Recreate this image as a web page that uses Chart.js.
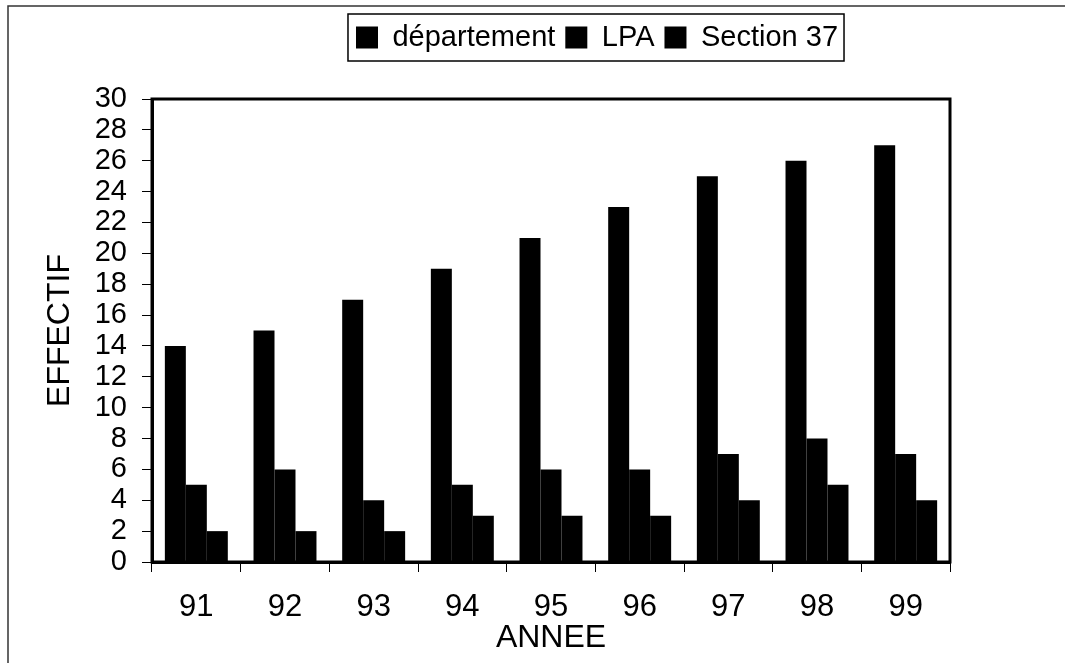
<!DOCTYPE html>
<html>
<head>
<meta charset="utf-8">
<script src="https://cdn.jsdelivr.net/npm/chart.js@4/dist/chart.umd.min.js"></script>
<style>
  html, body { margin: 0; padding: 0; background: #fff; }
  canvas { display: block; }
</style>
</head>
<body>
<canvas id="c" width="1065" height="663"></canvas>
<script>
const years = ['91', '92', '93', '94', '95', '96', '97', '98', '99'];
const departement = [14, 15, 17, 19, 21, 23, 25, 26, 27];
const lpa = [5, 6, 4, 5, 6, 6, 7, 8, 7];
const section37 = [2, 2, 2, 3, 3, 3, 4, 5, 4];
const seriesNames = ['département', 'LPA', 'Section 37'];
const yMin = 0, yMax = 30, yStep = 2;
const xTitle = 'ANNEE';
const yTitle = 'EFFECTIF';

const FONT = "'Liberation Sans', Arial, sans-serif";

const legendSpacer = {
  id: 'legendSpacer',
  beforeLayout(chart) {
    const lg = chart.legend;
    if (lg && !lg._patched) {
      const orig = lg.fit;
      lg.fit = function () { orig.call(this); this.height += 37; };
      lg._patched = true;
    }
  },
  afterLayout(chart) {
    const lg = chart.legend;
    if (lg) {
      const dx = 122;
      lg.left += dx;
      lg.right += dx;
    }
  }
};

const frames = {
  id: 'frames',
  beforeDraw(chart) {
    const ctx = chart.ctx;
    ctx.save();
    ctx.fillStyle = '#fff';
    ctx.fillRect(0, 0, chart.width, chart.height);
    ctx.strokeStyle = '#333';
    ctx.lineWidth = 1.5;
    ctx.beginPath();
    ctx.moveTo(8, 663);
    ctx.lineTo(8, 6);
    ctx.lineTo(1065, 6);
    ctx.stroke();
    ctx.restore();
  },
  afterDraw(chart) {
    const ctx = chart.ctx;
    const a = chart.chartArea;
    ctx.save();
    ctx.strokeStyle = '#000';
    ctx.lineWidth = 3;
    ctx.strokeRect(a.left, a.top, a.right - a.left, a.bottom - a.top);
    const hb = chart.legend.legendHitBoxes;
    if (hb && hb.length) {
      const first = hb[0], last = hb[hb.length - 1];
      const l = first.left - 8, r = last.left + last.width + 6;
      const t = first.top - 9, b = first.top + first.height + 9;
      ctx.lineWidth = 1.5;
      ctx.strokeStyle = '#000';
      ctx.strokeRect(l, t, r - l, b - t);
    }
    ctx.restore();
  }
};

new Chart(document.getElementById('c'), {
  type: 'bar',
  data: {
    labels: years,
    datasets: [
      { label: seriesNames[0], data: departement },
      { label: seriesNames[1], data: lpa },
      { label: seriesNames[2], data: section37 }
    ].map(d => Object.assign(d, {
      backgroundColor: '#000', borderWidth: 0,
      barPercentage: 1.0, categoryPercentage: 0.71
    }))
  },
  options: {
    responsive: false,
    animation: false,
    devicePixelRatio: 1,
    layout: { padding: { left: 0, right: 115, top: 13, bottom: 0 } },
    plugins: {
      legend: {
        display: true,
        position: 'top',
        labels: {
          color: '#000',
          font: { family: FONT, size: 29 },
          boxWidth: 22, boxHeight: 22,
          padding: 10
        }
      },
      tooltip: { enabled: false }
    },
    scales: {
      x: {
        type: 'category',
        offset: true,
        grid: { display: true, drawOnChartArea: false, offset: true, color: '#000', tickLength: 10, lineWidth: 1 },
        border: { display: true, color: '#000', width: 3 },
        ticks: { color: '#000', font: { family: FONT, size: 31 }, padding: 17, maxRotation: 0, autoSkip: false },
        title: { display: true, text: xTitle, color: '#000', font: { family: FONT, size: 32 }, padding: { top: 0, bottom: 6 } },
        afterFit(s) { s.height = 101; }
      },
      y: {
        min: yMin, max: yMax,
        grid: { display: true, drawOnChartArea: false, color: '#000', tickLength: 10, lineWidth: 1 },
        border: { display: true, color: '#000', width: 3 },
        ticks: { stepSize: yStep, autoSkip: false, color: '#000', font: { family: FONT, size: 29 }, padding: 15 },
        title: { display: true, text: yTitle, color: '#000', font: { family: FONT, size: 32 }, padding: { top: 41, bottom: 0 } },
        afterFit(s) { s.width = 152; }
      }
    }
  },
  plugins: [legendSpacer, frames]
});
</script>
</body>
</html>
